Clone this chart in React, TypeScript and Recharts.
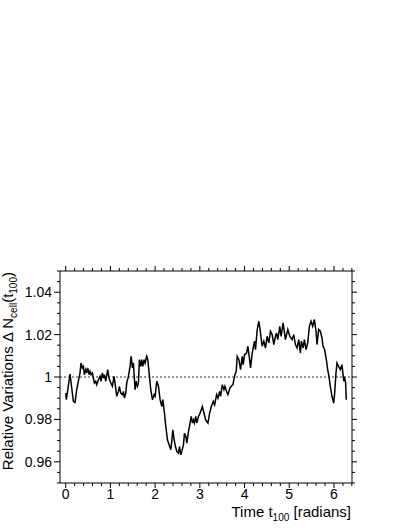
import React from 'react';
import { LineChart, Line, XAxis, YAxis, ReferenceLine } from 'recharts';

// time t100 in radians
const times = [
  0.0, 0.015, 0.097, 0.172, 0.209, 0.246, 0.321, 0.343, 0.373, 0.396, 0.418, 0.448, 0.47, 0.493,
  0.522, 0.545, 0.567, 0.597, 0.619, 0.642, 0.672, 0.694, 0.731, 0.769, 0.791, 0.821, 0.843, 0.866,
  0.896, 0.94, 0.97, 0.993, 1.045, 1.082, 1.119, 1.142, 1.179, 1.201, 1.231, 1.269, 1.291, 1.313,
  1.343, 1.366, 1.403, 1.44, 1.463, 1.493, 1.515, 1.552, 1.575, 1.604, 1.627, 1.649, 1.679, 1.701,
  1.724, 1.754, 1.776, 1.813, 1.836, 1.866, 1.903, 1.94, 1.978, 2.0, 2.037, 2.075, 2.112, 2.149,
  2.172, 2.209, 2.239, 2.276, 2.313, 2.351, 2.373, 2.396, 2.425, 2.455, 2.485, 2.522, 2.545, 2.575,
  2.597, 2.634, 2.657, 2.687, 2.709, 2.746, 2.769, 2.806, 2.836, 2.858, 2.881, 2.91, 2.933, 2.97,
  3.007, 3.056, 3.093, 3.13, 3.182, 3.219, 3.257, 3.301, 3.331, 3.375, 3.405, 3.442, 3.465, 3.502,
  3.539, 3.561, 3.599, 3.628, 3.673, 3.703, 3.74, 3.784, 3.814, 3.836, 3.874, 3.911, 3.948, 3.97,
  4.0, 4.045, 4.074, 4.104, 4.134, 4.171, 4.223, 4.245, 4.283, 4.32, 4.357, 4.394, 4.431, 4.468,
  4.506, 4.543, 4.58, 4.617, 4.654, 4.691, 4.714, 4.743, 4.788, 4.818, 4.862, 4.914, 4.967, 5.011,
  5.063, 5.1, 5.138, 5.175, 5.212, 5.249, 5.271, 5.309, 5.338, 5.375, 5.413, 5.45, 5.487, 5.524,
  5.561, 5.599, 5.621, 5.658, 5.695, 5.732, 5.755, 5.792, 5.829, 5.859, 5.888, 5.918, 5.955, 5.993,
  6.015, 6.045, 6.067, 6.104, 6.141, 6.178, 6.216, 6.238, 6.26, 6.275,
];

// relative variations of N_cell
const variations = [
  0.9924, 0.9893, 1.0014, 0.9885, 0.988, 0.994, 1.0019, 1.0066, 1.0043, 1.005, 1.0011, 1.0035,
  1.0019, 1.0043, 1.0011, 1.0027, 1.0011, 1.0019, 0.9995, 0.9972, 0.998, 0.9964, 0.9987, 1.0003,
  0.998, 1.0019, 0.9995, 1.0011, 0.998, 1.0035, 0.9995, 0.998, 0.9956, 1.0003, 0.9948, 0.9909,
  0.9932, 0.9956, 0.9924, 0.9917, 0.9932, 0.9901, 0.9924, 0.9972, 1.0003, 1.005, 1.0098, 1.0043,
  1.0066, 0.994, 0.998, 0.9956, 0.9972, 1.0082, 1.005, 1.0082, 1.005, 1.0082, 1.0066, 1.0098,
  1.0082, 1.0019, 0.994, 0.9893, 0.9917, 0.9909, 0.998, 0.9956, 0.9893, 0.9861, 0.9893, 0.983,
  0.9767, 0.9704, 0.968, 0.9657, 0.9696, 0.9751, 0.9704, 0.9672, 0.9649, 0.9641, 0.9672, 0.9633,
  0.9649, 0.968, 0.9735, 0.972, 0.9688, 0.9743, 0.9767, 0.9814, 0.9783, 0.9798, 0.9783, 0.9814,
  0.9783, 0.9814, 0.983, 0.9861, 0.983, 0.9798, 0.9783, 0.983, 0.9861, 0.9885, 0.9869, 0.9917,
  0.9901, 0.9932, 0.9909, 0.9964, 0.994, 0.9956, 0.9932, 0.9917, 0.9948, 0.9956, 0.9964, 1.0011,
  1.0027, 1.0098, 1.0082, 1.0035, 1.0098, 1.0058, 1.0106, 1.0113, 1.0145, 1.0098, 1.0043, 1.0113,
  1.0169, 1.0129, 1.0224, 1.0263, 1.0208, 1.0145, 1.0169, 1.0137, 1.0192, 1.0161, 1.0216, 1.02,
  1.0153, 1.0192, 1.0208, 1.0176, 1.0239, 1.0192, 1.0255, 1.0176, 1.0224, 1.0192, 1.0176, 1.02,
  1.0153, 1.0137, 1.0176, 1.0113, 1.0169, 1.0137, 1.0176, 1.0129, 1.0161, 1.0239, 1.0263, 1.0239,
  1.0271, 1.0216, 1.0153, 1.0224, 1.0216, 1.0184, 1.0145, 1.0129, 1.0082, 1.0035, 1.0003, 0.9956,
  0.9909, 0.9877, 0.9924, 1.0019, 1.0066, 1.005, 1.0035, 1.0058, 0.9987, 0.9995, 0.9972, 0.9893,
];

const xMajor = [0, 1, 2, 3, 4, 5, 6];
const yMajor = [0.96, 0.98, 1, 1.02, 1.04];
const xDomain: [number, number] = [-0.127, 6.403];
const yDomain: [number, number] = [0.95, 1.05];

const xTicks: number[] = [];
for (let i = 0; i <= 32; i++) xTicks.push(Math.round(i * 2) / 10);
const yTicks: number[] = [];
for (let i = 0; i <= 20; i++) yTicks.push(Math.round((0.95 + i * 0.005) * 1000) / 1000);

const data = times.map((t, i) => ({ t, v: variations[i] }));

const FONT = '"Liberation Sans", Arial, Helvetica, sans-serif';
const isMajor = (list: number[], v: number) => list.some((m) => Math.abs(m - v) < 1e-6);

const BottomTick = ({ x, y, payload }: any) => {
  const major = isMajor(xMajor, payload.value);
  return (
    <g>
      <line x1={x} y1={y} x2={x} y2={y + (major ? 5 : 3)} stroke="#000" />
      {major && (
        <text x={x} y={y + 16} textAnchor="middle" fontSize={14} fontFamily={FONT} fill="#000">
          {payload.value}
        </text>
      )}
    </g>
  );
};

const TopTick = ({ x, y, payload }: any) => {
  const major = isMajor(xMajor, payload.value);
  return <line x1={x} y1={y} x2={x} y2={y - (major ? 5 : 3)} stroke="#000" />;
};

const LeftTick = ({ x, y, payload }: any) => {
  const major = isMajor(yMajor, payload.value);
  return (
    <g>
      <line x1={x} y1={y} x2={x - (major ? 6 : 3)} y2={y} stroke="#000" />
      {major && (
        <text x={x - 8} y={y + 5} textAnchor="end" fontSize={14} fontFamily={FONT} fill="#000">
          {String(payload.value)}
        </text>
      )}
    </g>
  );
};

const RightTick = ({ x, y, payload }: any) => {
  const major = isMajor(yMajor, payload.value);
  return <line x1={x} y1={y} x2={x + (major ? 5 : 3)} y2={y} stroke="#000" />;
};

const XTitle = () => (
  <text x={351} y={517} textAnchor="end" fontSize={15} fontFamily={FONT} fill="#000">
    Time t
    <tspan fontSize={10} dy={4}>100</tspan>
    <tspan dy={-4}> [radians]</tspan>
  </text>
);

const YTitle = () => (
  <text
    x={13}
    y={272}
    transform="rotate(-90, 13, 272)"
    textAnchor="end"
    fontSize={15}
    fontFamily={FONT}
    fill="#000"
  >
    Relative Variations Δ N
    <tspan fontSize={10} dy={4}>cell</tspan>
    <tspan dy={-4}>(t</tspan>
    <tspan fontSize={10} dy={4}>100</tspan>
    <tspan dy={-4}>)</tspan>
  </text>
);

export default function App() {
  return (
    <div style={{ position: 'absolute', left: 0, top: 0, width: 409, height: 529, background: '#fff' }}>
      <LineChart
        width={409}
        height={529}
        data={data}
        margin={{ top: 261, right: 47, bottom: 0, left: 0 }}
      >
        <XAxis
          xAxisId="bottom"
          dataKey="t"
          type="number"
          domain={xDomain}
          allowDataOverflow
          ticks={xTicks}
          interval={0}
          tickLine={false}
          tickSize={0}
          tickMargin={0}
          tick={<BottomTick />}
          height={46}
          stroke="#000"
          label={<XTitle />}
        />
        <XAxis
          xAxisId="top"
          orientation="top"
          dataKey="t"
          type="number"
          domain={xDomain}
          allowDataOverflow
          ticks={xTicks}
          interval={0}
          tickLine={false}
          tickSize={0}
          tickMargin={0}
          tick={<TopTick />}
          height={10}
          stroke="#000"
        />
        <YAxis
          yAxisId="left"
          type="number"
          domain={yDomain}
          allowDataOverflow
          ticks={yTicks}
          interval={0}
          tickLine={false}
          tickSize={0}
          tickMargin={0}
          tick={<LeftTick />}
          width={60}
          stroke="#000"
          label={<YTitle />}
        />
        <YAxis
          yAxisId="right"
          orientation="right"
          type="number"
          domain={yDomain}
          allowDataOverflow
          ticks={yTicks}
          interval={0}
          tickLine={false}
          tickSize={0}
          tickMargin={0}
          tick={<RightTick />}
          width={10}
          stroke="#000"
        />
        <ReferenceLine
          xAxisId="bottom"
          yAxisId="left"
          y={1}
          stroke="#333"
          strokeDasharray="2 2"
          strokeWidth={1}
        />
        <Line
          xAxisId="bottom"
          yAxisId="left"
          type="linear"
          dataKey="v"
          stroke="#000"
          strokeWidth={1.5}
          dot={false}
          isAnimationActive={false}
        />
      </LineChart>
    </div>
  );
}
